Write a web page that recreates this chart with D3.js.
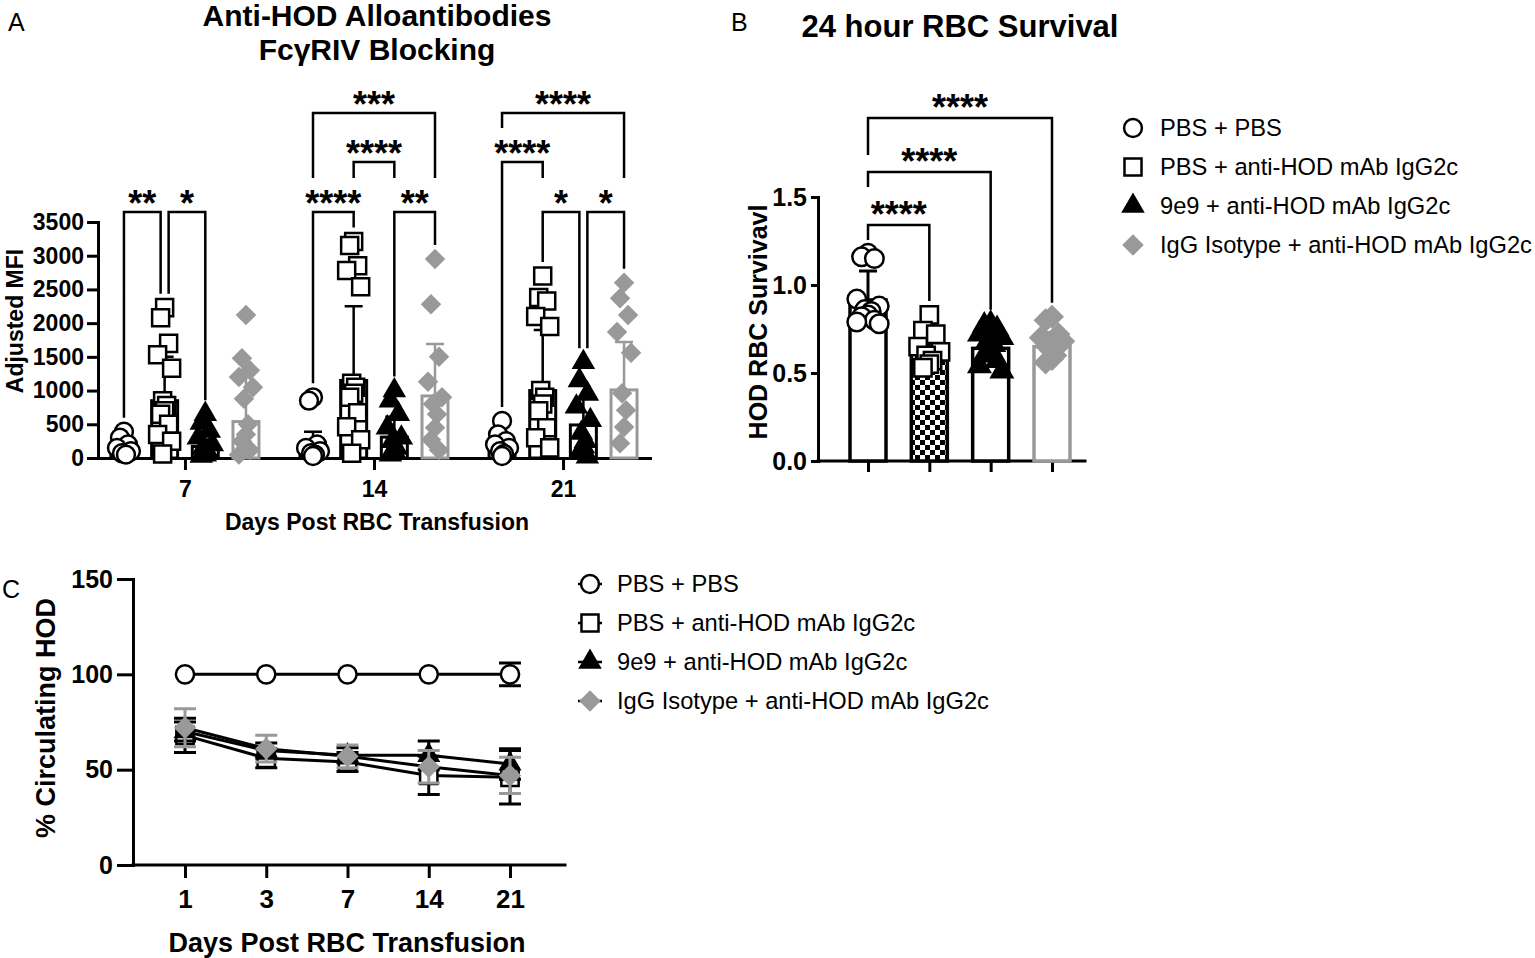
<!DOCTYPE html>
<html>
<head>
<meta charset="utf-8">
<script src="https://cdn.jsdelivr.net/npm/d3@7"></script>
<style>
  body { margin: 0; background: #fff; }
  svg { display: block; }
  text { font-family: "Liberation Sans", Arial, Helvetica, sans-serif; }
</style>
</head>
<body>
<script>
// ---- data ----
const groups = ["PBS + PBS", "PBS + anti-HOD mAb IgG2c", "9e9 + anti-HOD mAb IgG2c", "IgG Isotype + anti-HOD mAb IgG2c"];

// panel A: adjusted MFI, one array per group for each day
const daysA = [7, 14, 21];
const mfiDay7 = [
  [390, 300, 200, 150, 100, 70, 50],
  [2230, 2080, 1700, 1530, 1330, 850, 780, 700, 650, 500, 350, 250, 60],
  [650, 520, 400, 300, 200, 150, 100, 50, 30],
  [2120, 1480, 1300, 1200, 1050, 880, 500, 350, 250, 120, 50]
];
const mfiDay14 = [
  [900, 850, 200, 150, 100, 70, 50, 30],
  [3210, 3150, 2850, 2780, 2540, 1110, 1050, 960, 900, 670, 465, 270, 70],
  [1000, 850, 650, 450, 300, 250, 150, 100, 50],
  [2950, 2280, 1500, 1130, 900, 800, 650, 450, 270, 120]
];
const mfiDay21 = [
  [550, 350, 250, 200, 150, 100, 60, 30],
  [2700, 2380, 2330, 2100, 1950, 1000, 900, 800, 700, 450, 300, 150],
  [1420, 1150, 950, 760, 560, 370, 250, 170, 80, 20],
  [2600, 2370, 2120, 1870, 1560, 960, 710, 460, 220]
];
const mfiMean = [[150, 850, 170, 540], [180, 1150, 310, 920], [150, 1000, 490, 1010]];
const mfiSd = [[120, 650, 170, 700], [210, 1100, 300, 770], [130, 900, 400, 710]];
const mfiTicks = [0, 500, 1000, 1500, 2000, 2500, 3000, 3500];
// [day index, group a, group b, level, label, leg a, leg b]
const sigA = [
  [0, 0, 1, 0, "**", "d", "d"],
  [0, 1, 2, 0, "*", "d", "d"],
  [1, 0, 1, 0, "****", "d", "d"],
  [1, 2, 3, 0, "**", "d", "d"],
  [1, 1, 2, 1, "****", "lo", "lo"],
  [1, 0, 3, 2, "***", "lo", "lo"],
  [2, 1, 2, 0, "*", "d", "d"],
  [2, 2, 3, 0, "*", "d", "d"],
  [2, 0, 1, 1, "****", "d", "lo"],
  [2, 0, 3, 2, "****", "mid", "lo"]
];

// panel B: 24 h survival
const survPoints = [
  [1.18, 1.16, 1.15, 0.92, 0.88, 0.86, 0.85, 0.83, 0.82, 0.80, 0.79, 0.78],
  [0.83, 0.74, 0.72, 0.65, 0.62, 0.60, 0.57, 0.55, 0.53],
  [0.78, 0.77, 0.75, 0.72, 0.70, 0.68, 0.66, 0.63, 0.60, 0.57, 0.54, 0.51],
  [0.82, 0.80, 0.72, 0.70, 0.68, 0.64, 0.60, 0.58, 0.56]
];
const survMean = [0.915, 0.62, 0.64, 0.65];
const survSd = [0.165, 0.08, 0.07, 0.08];
const survTicks = [0, 0.5, 1.0, 1.5];
const sigB = [[1, 0, "****"], [2, 1, "****"], [3, 2, "****"]]; // [vs group, level, label]

// panel C: % circulating HOD over time
const daysC = [1, 3, 7, 14, 21];
const circMean = [
  [100, 100, 100, 100, 100],
  [68, 56, 54, 47, 46],
  [70, 60, 57.5, 57.5, 53],
  [72, 61, 57, 51.5, 47]
];
const circSd = [
  [0, 0, 0, 0, 6],
  [9, 5, 5, 10, 14],
  [5, 4, 4, 7.5, 8],
  [10, 7, 6, 8.5, 9.5]
];
const circTicks = [0, 50, 100, 150];

// ---- setup ----
const width = 1535, height = 958;
const svg = d3.select("body").append("svg")
    .attr("width", width)
    .attr("height", height);

const gray = "#999999";
const strokeCol = ["#000", "#000", "#000", gray];
const fillCol = ["#fff", "#fff", "#000", gray];
const shapes = [d3.symbolCircle, d3.symbolSquare, d3.symbolTriangle, d3.symbolSquare];

const defs = svg.append("defs");
const pat = defs.append("pattern").attr("id", "checker")
    .attr("width", 10).attr("height", 10).attr("patternUnits", "userSpaceOnUse");
pat.append("rect").attr("width", 10).attr("height", 10).attr("fill", "#fff");
pat.append("rect").attr("width", 5).attr("height", 5).attr("fill", "#000");
pat.append("rect").attr("x", 5).attr("y", 5).attr("width", 5).attr("height", 5).attr("fill", "#000");

// draw a marker of group i at (x, y)
function marker(parent, i, x, y, sizes) {
  const p = parent.append("path")
      .attr("d", d3.symbol(shapes[i], sizes[i])())
      .attr("transform", `translate(${x},${y})` + (i === 3 ? " rotate(45)" : ""))
      .attr("fill", fillCol[i]);
  if (i < 2) p.attr("stroke", "#000").attr("stroke-width", 2.5);
  return p;
}

function styleAxis(g, fs) {
  g.attr("font-family", null).attr("font-size", null);
  g.select(".domain").attr("stroke-width", 3).attr("stroke-linecap", "square");
  g.selectAll(".tick line").attr("stroke-width", 3);
  g.selectAll(".tick text").attr("font-size", fs).attr("font-weight", "bold").attr("fill", "#000");
}

function boldText(x, y, str, size, anchor) {
  return svg.append("text").attr("x", x).attr("y", y).text(str)
      .attr("font-size", size).attr("font-weight", "bold")
      .attr("text-anchor", anchor || "middle");
}

function stars(x, yc, label) {
  svg.append("text").attr("x", x).attr("y", yc + 20)
      .attr("text-anchor", "middle").attr("font-size", 36).attr("font-weight", "bold")
      .text(label);
}

// ---- panel A ----
const yA = d3.scaleLinear().domain([0, 3500]).range([458, 222]);
const xA = d3.scalePoint().domain(daysA).range([98, 650]).padding(0.46);
const subA = d3.scalePoint().domain(d3.range(4)).range([-61, 61]);
const jitter = [0, -4, 4, -7, 7, -2, 2];
const sizesA = [250, 290, 240, 210];

svg.append("text").attr("x", 8).attr("y", 31).text("A")
    .attr("font-size", 25).attr("font-family", "Liberation Sans Narrow, Arial, sans-serif");
boldText(377, 26, "Anti-HOD Alloantibodies", 30);
boldText(377, 60, "Fc\u03B3RIV Blocking", 30);

const axAy = svg.append("g").attr("transform", "translate(98,0)")
    .call(d3.axisLeft(yA).tickValues(mfiTicks).tickFormat(d3.format("d")).tickSize(11).tickSizeOuter(0).tickPadding(3));
styleAxis(axAy, 23);
const axAx = svg.append("g").attr("transform", "translate(0,458)")
    .call(d3.axisBottom(xA).tickSize(12).tickSizeOuter(0).tickPadding(11));
styleAxis(axAx, 23);

svg.append("text").attr("transform", "translate(23,321) rotate(-90)")
    .attr("text-anchor", "middle").attr("font-size", 23).attr("font-weight", "bold")
    .text("Adjusted MFI");
boldText(377, 530, "Days Post RBC Transfusion", 23);

const mfiDays = [mfiDay7, mfiDay14, mfiDay21];
const gA = svg.append("g");
mfiDays.forEach((day, d) => {
  day.forEach((pts, i) => {
    const cx = xA(daysA[d]) + subA(i);
    const m = mfiMean[d][i], s = mfiSd[d][i];
    gA.append("rect").attr("x", cx - 13).attr("y", yA(m))
        .attr("width", 26).attr("height", yA(0) - yA(m))
        .attr("fill", "#fff").attr("stroke", strokeCol[i]).attr("stroke-width", 3);
    gA.append("path").attr("d", `M${cx},${yA(m)}V${yA(m + s)}M${cx - 9},${yA(m + s)}H${cx + 9}`)
        .attr("stroke", strokeCol[i]).attr("stroke-width", 2.5).attr("fill", "none");
    pts.forEach((v, k) => marker(gA, i, cx + jitter[k % jitter.length], yA(v), sizesA));
  });
});

const levelA = [212, 162, 113];
const legStop = { lo: 178, mid: 128 };
sigA.forEach(([d, a, b, lev, label, la, lb]) => {
  const day = mfiDays[d];
  const shared = (g, side) => sigA.some(o => o[0] === d && o[3] === lev && (side === "r" ? o[1] === g : o[2] === g));
  let xa = xA(daysA[d]) + subA(a), xb = xA(daysA[d]) + subA(b);
  if (lev === 0 && shared(a, "l")) xa += 4;
  if (lev === 0 && shared(b, "r")) xb -= 4;
  const y = levelA[lev];
  const ya = la === "d" ? yA(d3.max(day[a])) - 14 : legStop[la];
  const yb = lb === "d" ? yA(d3.max(day[b])) - 14 : legStop[lb];
  svg.append("path").attr("d", `M${xa},${ya}V${y}H${xb}V${yb}`)
      .attr("fill", "none").attr("stroke", "#000").attr("stroke-width", 2.5);
  stars((xa + xb) / 2, y - 16, label);
});

// ---- panel B ----
const yB = d3.scaleLinear().domain([0, 1.5]).range([461, 197]);
const xB = d3.scalePoint().domain(d3.range(4)).range([868, 1052]);
const sizesB = [270, 300, 270, 290];

svg.append("text").attr("x", 731).attr("y", 31).text("B")
    .attr("font-size", 25).attr("font-family", "Liberation Sans Narrow, Arial, sans-serif");
boldText(960, 37, "24 hour RBC Survival", 31);

const axBy = svg.append("g").attr("transform", "translate(818,0)")
    .call(d3.axisLeft(yB).tickValues(survTicks).tickFormat(d3.format(".1f")).tickSize(7).tickSizeOuter(0).tickPadding(4));
styleAxis(axBy, 25);
const axBx = svg.append("g").attr("transform", "translate(0,461)")
    .call(d3.axisBottom(xB).tickSize(11).tickFormat(""));
styleAxis(axBx, 25);
axBx.select(".domain").attr("d", "M818,0H1085");

svg.append("text").attr("transform", "translate(767,322) rotate(-90)")
    .attr("text-anchor", "middle").attr("font-size", 25).attr("font-weight", "bold")
    .text("HOD RBC Survivavl");

const gB = svg.append("g");
survPoints.forEach((pts, i) => {
  const cx = xB(i), m = survMean[i], s = survSd[i];
  gB.append("rect").attr("x", cx - 18).attr("y", yB(m))
      .attr("width", 36).attr("height", yB(0) - yB(m))
      .attr("fill", i === 1 ? "url(#checker)" : "#fff")
      .attr("stroke", strokeCol[i]).attr("stroke-width", 3.5);
  gB.append("path").attr("d", `M${cx},${yB(m)}V${yB(m + s)}M${cx - 9},${yB(m + s)}H${cx + 9}`)
      .attr("stroke", strokeCol[i]).attr("stroke-width", 3).attr("fill", "none");
  pts.forEach((v, k) => marker(gB, i, cx + jitter[k % jitter.length] * 1.6, yB(v), sizesB));
});

const levelB = [225, 172, 118];
const leftLegB = [240, 187, 155];
sigB.forEach(([g, lev, label]) => {
  const xa = xB(0), xb = xB(g), y = levelB[lev];
  const yb = yB(d3.max(survPoints[g])) - 14;
  svg.append("path").attr("d", `M${xa},${leftLegB[lev]}V${y}H${xb}V${yb}`)
      .attr("fill", "none").attr("stroke", "#000").attr("stroke-width", 2.5);
  stars((xa + xb) / 2, y - 18, label);
});

// legend B
groups.forEach((name, i) => {
  const yy = 128 + i * 39;
  marker(svg, i, 1133, yy, [250, 290, 240, 230]);
  svg.append("text").attr("x", 1160).attr("y", yy + 8).attr("font-size", 23.7).text(name);
});

// ---- panel C ----
const yC = d3.scaleLinear().domain([0, 150]).range([865, 579]);
const xC = d3.scalePoint().domain(daysC).range([185, 510]);
const sizesC = [260, 300, 230, 250];

svg.append("text").attr("x", 2).attr("y", 598).text("C")
    .attr("font-size", 25).attr("font-family", "Liberation Sans Narrow, Arial, sans-serif");

const axCy = svg.append("g").attr("transform", "translate(133,0)")
    .call(d3.axisLeft(yC).tickValues(circTicks).tickSize(16).tickSizeOuter(0).tickPadding(4));
styleAxis(axCy, 25);
const axCx = svg.append("g").attr("transform", "translate(0,865)")
    .call(d3.axisBottom(xC).tickSize(13).tickSizeOuter(0).tickPadding(12));
styleAxis(axCx, 26);
axCx.select(".domain").attr("d", "M133,0H565");

svg.append("text").attr("transform", "translate(55,718) rotate(-90)")
    .attr("text-anchor", "middle").attr("font-size", 27).attr("font-weight", "bold")
    .text("% Circulating HOD");
boldText(347, 952, "Days Post RBC Transfusion", 27);

const lineC = d3.line().x((v, k) => xC(daysC[k])).y(v => yC(v));
const gC = svg.append("g");
circMean.forEach((vals, i) => {
  gC.append("path").attr("d", lineC(vals)).attr("fill", "none")
      .attr("stroke", "#000").attr("stroke-width", 3);
  vals.forEach((v, k) => {
    const s = circSd[i][k];
    if (s <= 0) return;
    const cx = xC(daysC[k]);
    gC.append("path")
        .attr("d", `M${cx},${yC(v - s)}V${yC(v + s)}M${cx - 11},${yC(v + s)}H${cx + 11}M${cx - 11},${yC(v - s)}H${cx + 11}`)
        .attr("stroke", strokeCol[i]).attr("stroke-width", 3).attr("fill", "none");
  });
  vals.forEach((v, k) => marker(gC, i, xC(daysC[k]), yC(v), sizesC));
});

// legend C
groups.forEach((name, i) => {
  const yy = 584 + i * 39;
  svg.append("path").attr("d", `M578,${yy}H602`).attr("stroke", "#000").attr("stroke-width", 2.5);
  marker(svg, i, 590, yy, [250, 290, 240, 230]);
  svg.append("text").attr("x", 617).attr("y", yy + 8).attr("font-size", 23.7).text(name);
});
</script>
</body>
</html>
